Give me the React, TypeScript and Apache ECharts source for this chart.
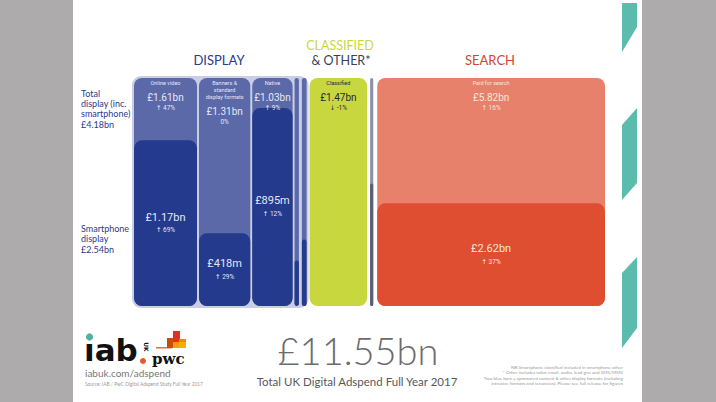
import React, { useEffect, useRef } from "react";
import * as echarts from "echarts";

// ---- data ----
const categories = [
  "Online video",
  "Banners & standard display formats",
  "Native",
  "Sponsored content",
  "Other display formats",
  "Classified",
  "Other",
  "Paid for search",
];
const titles = ["Online video", "Banners &\nstandard\ndisplay formats", "Native", "", "", "Classified", "", "Paid for search"];
const groups = ["display", "display", "display", "display", "display", "classified", "other", "search"];
const totals = [1.61, 1.31, 1.03, 0.11, 0.12, 1.47, 0.08, 5.82];
const smartphone: (number | null)[] = [1.17, 0.418, 0.895, 0.022, 0.035, null, 0.043, 2.62];
const totalLabels = ["£1.61bn", "£1.31bn", "£1.03bn", "", "", "£1.47bn", "", "£5.82bn"];
const totalChanges = ["↑ 47%", "0%", "↑ 9%", "", "", "↓ -1%", "", "↑ 16%"];
const smartLabels = ["£1.17bn", "£418m", "£895m", "", "", "", "", "£2.62bn"];
const smartChanges = ["↑ 69%", "↑ 29%", "↑ 12%", "", "", "", "", "↑ 37%"];
const headline = "£11.55bn";
const headlineCaption = "Total UK Digital Adspend Full Year 2017";
const totalDisplayLabel = ["Total", "display (inc.", "smartphone)", "£4.18bn"];
const smartDisplayLabel = ["Smartphone", "display", "£2.54bn"];
const footnotes = [
  "NB Smartphone classified included in smartphone other",
  "* Other includes solus email, audio, lead gen and SMS/MMS",
  "Two blue bars = sponsored content & other display formats (including",
  "intrusive formats and tenancies). Please see full release for figures",
];

// ---- styling ----
const gapPx = [0, 2, 4, 6, 9, 12, 15, 19];
const colors: Record<string, { light: string; dark: string; text: string }> = {
  display: { light: "#5b69a9", dark: "#243a8c", text: "#e3e6f4" },
  classified: { light: "#c9d73f", dark: "#c9d73f", text: "#1f2a3c" },
  other: { light: "#8d91a7", dark: "#5c6077", text: "#ffffff" },
  search: { light: "#e8816c", dark: "#df4e31", text: "#fde3da" },
};
const numFont = "Roboto, 'DejaVu Sans', sans-serif";
const txtFont = "Lato, 'Noto Sans', sans-serif";

const starts: number[] = [];
{
  let c = 0;
  totals.forEach((t) => {
    starts.push(c);
    c += t;
  });
}
const grandTotal = totals.reduce((a, b) => a + b, 0);
const displayIdx = groups.map((g, i) => (g === "display" ? i : -1)).filter((i) => i >= 0);
const displayEndIdx = displayIdx[displayIdx.length - 1];

function txt(x: number, y: number, text: string, fontSize: number, fill: string, family: string, align = "center", weight: any = "normal", extra: any = {}) {
  return {
    type: "text",
    x,
    y,
    silent: true,
    style: {
      text,
      fill,
      fontSize,
      fontFamily: family,
      fontWeight: weight,
      align,
      textAlign: align,
      verticalAlign: "middle",
      textVerticalAlign: "middle",
      lineHeight: extra.lineHeight,
    },
  };
}

export default function App() {
  const ref = useRef<HTMLDivElement>(null);
  useEffect(() => {
    if (!ref.current) return;
    const chart = echarts.init(ref.current, undefined, { renderer: "svg" });

    const renderBar = (params: any, api: any) => {
      const i = api.value(2);
      const s = api.value(0);
      const e = api.value(1);
      const pTop = api.coord([s, 1]);
      const pBot = api.coord([e, 0]);
      const x0 = pTop[0] + gapPx[i];
      const x1 = pBot[0] + gapPx[i];
      const yTop = pTop[1];
      const yBot = pBot[1];
      const w = x1 - x0;
      const r = Math.min(8, w / 2);
      const c = colors[groups[i]];
      const children: any[] = [
        { type: "rect", shape: { x: x0, y: yTop, width: w, height: yBot - yTop, r }, style: { fill: c.light } },
      ];
      const sm = smartphone[i];
      let ySm = yBot;
      if (sm != null) {
        ySm = api.coord([s, sm / totals[i]])[1];
        children.push({ type: "rect", shape: { x: x0, y: ySm, width: w, height: yBot - ySm, r }, style: { fill: c.dark } });
      }
      const cx = (x0 + x1) / 2;
      if (totalLabels[i]) {
        const lines = titles[i] ? titles[i].split("\n").length : 0;
        children.push(txt(cx, yTop + 5 + (lines - 1) * 3.5, titles[i], 5.5, c.text, numFont, "center", "normal", { lineHeight: 7 }));
        const vy = yTop + 12 + lines * 7;
        children.push(txt(cx, vy, totalLabels[i], 10, c.text, numFont));
        children.push(txt(cx, vy + 11, totalChanges[i], 6.5, c.text, numFont));
      }
      if (smartLabels[i]) {
        const my = (ySm + yBot) / 2;
        children.push(txt(cx, my - 6, smartLabels[i], 11, c.text, numFont));
        children.push(txt(cx, my + 7, smartChanges[i], 6.5, c.text, numFont));
      }
      return { type: "group", children };
    };

    const renderPanel = (params: any, api: any) => {
      const pTop = api.coord([api.value(0), 1]);
      const pBot = api.coord([api.value(1), 0]);
      const x0 = pTop[0] - 2;
      const x1 = pBot[0] + gapPx[displayEndIdx] + 2;
      return {
        type: "rect",
        shape: { x: x0, y: pTop[1] - 2, width: x1 - x0, height: pBot[1] - pTop[1] + 4, r: 9 },
        style: { fill: "#c9cee6" },
      };
    };

    const barData = totals.map((t, i) => ({ name: categories[i], value: [starts[i], starts[i] + t, i] }));
    const dStart = starts[displayIdx[0]];
    const dEnd = starts[displayEndIdx] + totals[displayEndIdx];

    const graphics: any[] = [
      { type: "rect", shape: { x: 0, y: 0, width: 73, height: 402 }, style: { fill: "#adabac" }, silent: true },
      { type: "rect", shape: { x: 642, y: 0, width: 74, height: 402 }, style: { fill: "#adabac" }, silent: true },
      { type: "polygon", shape: { points: [[622, 3], [637, 3], [637, 27], [622, 52]] }, style: { fill: "#5bbcad" } },
      { type: "polygon", shape: { points: [[622, 125], [637, 108], [637, 183], [622, 200]] }, style: { fill: "#5bbcad" } },
      { type: "polygon", shape: { points: [[622, 273], [637, 257], [637, 328], [622, 348]] }, style: { fill: "#5bbcad" } },
      txt(219, 60, "DISPLAY", 13, "#2b3990", txtFont),
      txt(340, 45, "CLASSIFIED", 12.5, "#c9d73f", txtFont),
      txt(341, 60, "& OTHER*", 12.5, "#3b3f5c", txtFont),
      txt(490, 60, "SEARCH", 13, "#cf4632", txtFont),
      ...totalDisplayLabel.map((l, k) => txt(81, 93 + k * 10.4, l, 9, "#2b3990", txtFont, "left")),
      ...smartDisplayLabel.map((l, k) => txt(81, 228 + k * 10.5, l, 9, "#2b3990", txtFont, "left")),
      txt(358, 350, headline, 38, "#6b6b6e", txtFont, "center", 300),
      txt(357, 381, headlineCaption, 11.5, "#58585b", txtFont),
      ...footnotes.map((l, k) => txt(623, 367 + k * 5.3, l, 4.6, "#9a9a9a", txtFont, "right")),
      // iab logo
      txt(84, 350, "ıab", 31, "#111111", "'DejaVu Sans', sans-serif", "left", "bold"),
      { type: "circle", shape: { cx: 89.5, cy: 337, r: 3.6 }, style: { fill: "#4fb3a4" } },
      { type: "circle", shape: { cx: 143, cy: 361, r: 3 }, style: { fill: "#e8552c" } },
      { type: "text", x: 146, y: 347, rotation: -Math.PI / 2, style: { text: "UK", fill: "#111", fontSize: 6, fontFamily: "'DejaVu Sans', sans-serif", fontWeight: "bold", align: "center", textAlign: "center", verticalAlign: "middle" } },
      // pwc logo
      { type: "rect", shape: { x: 156, y: 347, width: 16, height: 1.5 }, style: { fill: "#e8702a" } },
      { type: "rect", shape: { x: 167, y: 338, width: 7, height: 10 }, style: { fill: "#d04a02" } },
      { type: "rect", shape: { x: 173, y: 331, width: 7, height: 17 }, style: { fill: "#e0301e" } },
      { type: "rect", shape: { x: 179, y: 339, width: 7, height: 9 }, style: { fill: "#eb8c00" } },
      { type: "rect", shape: { x: 173, y: 342, width: 13, height: 6 }, style: { fill: "#ffb600", opacity: 0.8 } },
      txt(152, 359, "pwc", 15, "#111111", "'DejaVu Serif', 'Liberation Serif', serif", "left", "bold"),
      txt(85, 373, "iabuk.com/adspend", 10, "#777777", txtFont, "left"),
      txt(85, 383.5, "Source: IAB / PwC Digital Adspend Study Full Year 2017", 4.8, "#9a9a9a", txtFont, "left"),
    ];

    chart.setOption({
      animation: false,
      backgroundColor: "#ffffff",
      grid: { left: 134, right: 716 - 134 - 452, top: 78, bottom: 96 },
      xAxis: { type: "value", min: 0, max: grandTotal, show: false },
      yAxis: { type: "value", min: 0, max: 1, show: false },
      series: [
        { type: "custom", z: 1, renderItem: renderPanel, data: [[dStart, dEnd]], silent: true },
        { type: "custom", z: 2, renderItem: renderBar, data: barData, encode: { x: [0, 1] } },
      ],
      graphic: { elements: graphics },
    });
    return () => chart.dispose();
  }, []);
  return <div ref={ref} style={{ position: "absolute", left: 0, top: 0, width: 716, height: 402 }} />;
}
